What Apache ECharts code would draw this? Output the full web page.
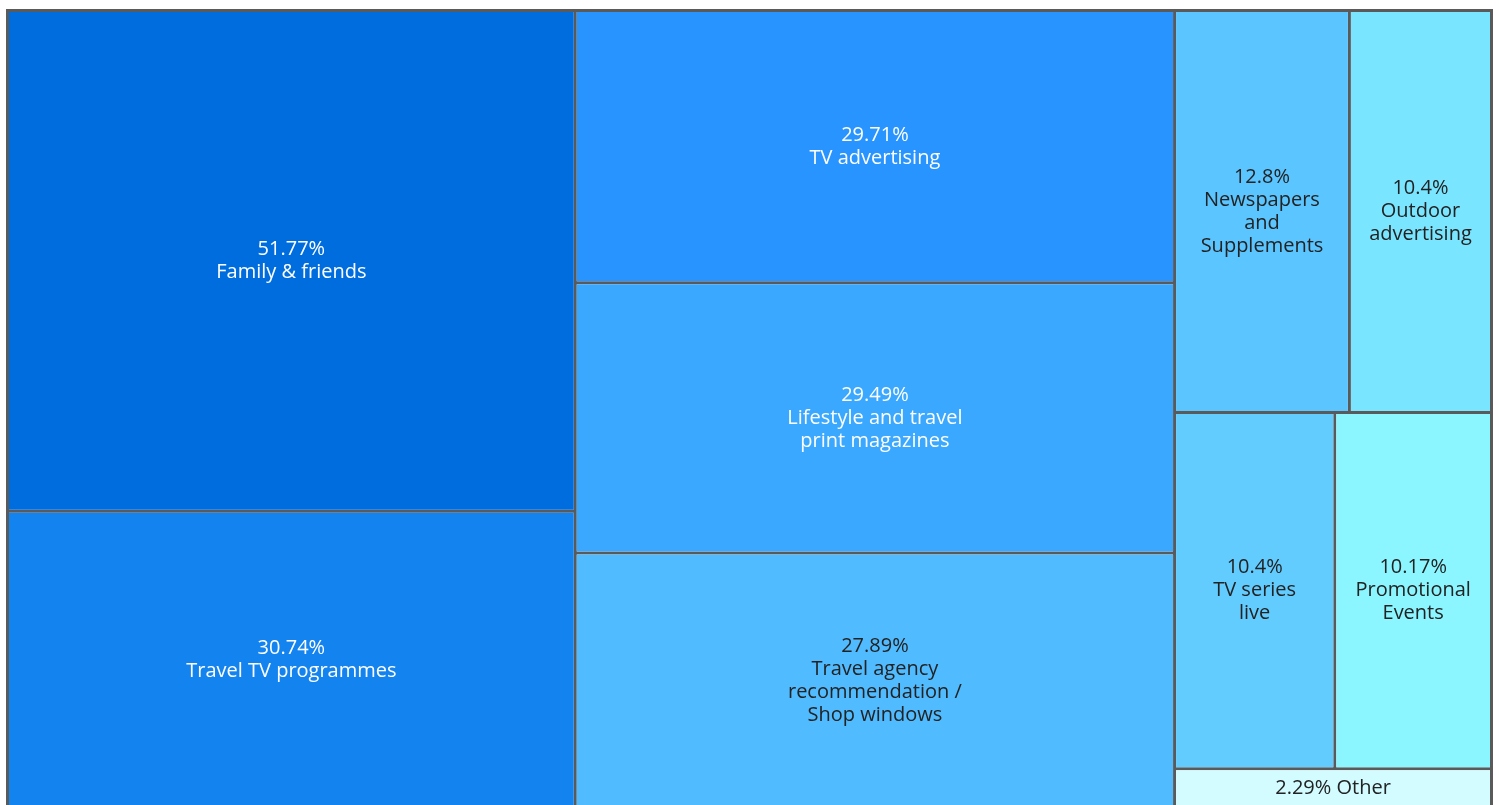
<!DOCTYPE html>
<html>
<head>
<meta charset="utf-8">
<title>Treemap</title>
<script src="https://cdn.jsdelivr.net/npm/echarts@6/dist/echarts.min.js"></script>
<style>
    html, body { margin: 0; padding: 0; background: #ffffff; }
    #main { width: 1499px; height: 805px; }
</style>
</head>
<body>
<div id="main"></div>
<script>
// 数据
var names = ['Family & friends', 'Travel TV programmes', 'TV advertising',
    'Lifestyle and travel\nprint magazines', 'Travel agency\nrecommendation /\nShop windows',
    'Newspapers\nand\nSupplements', 'TV series\nlive', 'Outdoor\nadvertising',
    'Promotional\nEvents', 'Other'];
var values = [51.77, 30.74, 29.71, 29.49, 27.89, 12.8, 10.4, 10.4, 10.17, 2.29];
var colors = ['#006ddf', '#1383f0', '#2894ff', '#3aa8ff', '#50bbff',
    '#5bc5ff', '#62ccff', '#7ae5ff', '#8bf6ff', '#d2fcff'];
var textColors = ['#ffffff', '#ffffff', '#ffffff', '#ffffff', '#222222',
    '#222222', '#222222', '#222222', '#222222', '#222222'];

var treeData = [];
for (var i = 0; i < names.length; i++) {
    treeData.push({
        name: names[i],
        value: values[i],
        itemStyle: {color: colors[i], borderWidth: 0},
        label: {color: textColors[i]}
    });
}

var myChart = echarts.init(document.getElementById('main'));
var option = {
    backgroundColor: '#ffffff',
    series: [
        {
            type: 'treemap',
            left: 6,
            top: 9,
            width: 1487,
            height: 801,
            roam: false,
            nodeClick: false,
            breadcrumb: {show: false},
            animation: false,
            label: {
                show: true,
                position: 'inside',
                align: 'center',
                verticalAlign: 'middle',
                fontFamily: 'Open Sans',
                fontSize: 20,
                lineHeight: 23,
                formatter: function (p) {
                    if (p.name == 'Other') {
                        return p.value + '% ' + p.name;
                    }
                    return p.value + '%\n' + p.name;
                }
            },
            levels: [
                {
                    itemStyle: {
                        borderColor: '#5a5a5a',
                        borderWidth: 3,
                        gapWidth: 3
                    }
                },
                {
                    itemStyle: {borderWidth: 0}
                }
            ],
            data: treeData
        }
    ]
};
myChart.setOption(option);
</script>
</body>
</html>
